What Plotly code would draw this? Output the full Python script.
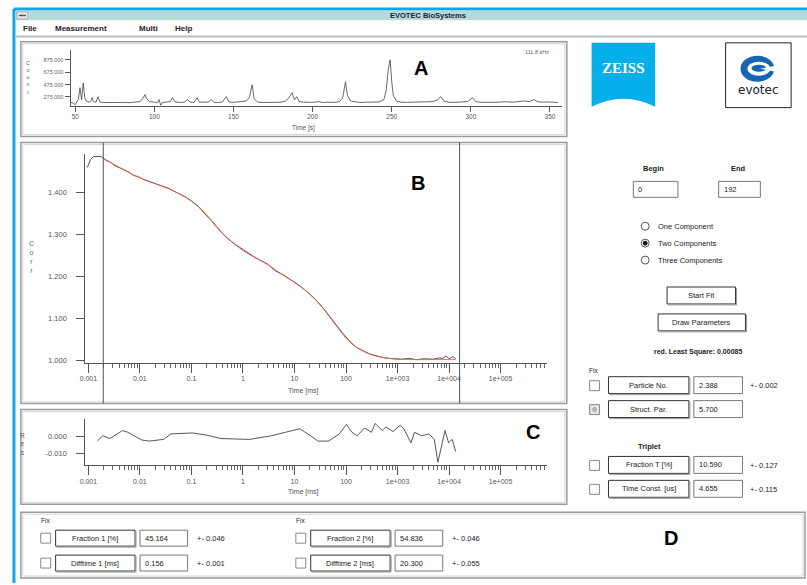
import plotly.graph_objects as go

W, H = 807, 585

# ---------------- data ----------------
# Panel A: count-rate trace
trace_time_s = [47, 49, 50, 51, 52, 53, 54, 55, 56, 57, 58, 59, 60, 60.7, 61.5, 63, 64.4, 65.5, 68, 72, 76, 80, 84, 88,
                91, 93, 94, 95, 97, 100, 102, 103, 103.5, 104, 105, 108, 110, 111.5, 113, 116, 119, 121, 122.5, 125,
                127, 128.5, 131, 134, 136, 137.5, 140, 143, 145.5, 147, 150, 153, 156, 158, 160, 161.8, 163, 165, 168,
                172, 176, 180, 183, 185, 187, 188.5, 190, 191.5, 194, 197, 200, 204, 206, 210, 214, 217, 219, 220.8,
                222, 224, 227, 230, 234, 238, 242, 245, 246.5, 247.8, 249, 250, 251, 253, 256, 260, 264, 268, 272,
                276, 279, 281, 283, 286, 290, 294, 298, 301, 303, 306, 310, 314, 318, 322, 326, 330, 334, 337, 340,
                342, 345, 348, 352, 355]
trace_counts = [190, 175, 150, 200, 240, 425, 230, 500, 260, 210, 195, 190, 220, 264, 200, 190, 280, 195, 185, 188,
                184, 186, 183, 190, 200, 260, 312, 250, 200, 190, 180, 232, 150, 140, 185, 190, 200, 264, 195, 188,
                190, 232, 190, 186, 264, 190, 188, 192, 232, 190, 185, 195, 280, 195, 188, 192, 200, 210, 260, 473,
                250, 195, 185, 186, 183, 190, 210, 260, 344, 230, 280, 200, 192, 190, 188, 200, 186, 190, 188, 200,
                260, 521, 300, 210, 195, 186, 190, 188, 195, 230, 380, 715, 876, 520, 300, 210, 190, 188, 192, 195,
                190, 200, 230, 280, 210, 190, 188, 192, 200, 264, 200, 190, 195, 188, 192, 198, 190, 205, 210, 200,
                232, 200, 190, 195, 188, 186]
trace_xticks = [50, 100, 150, 200, 250, 300, 350]
trace_yticks = [275, 475, 675, 875]
trace_yticktext = ["275.000", "475.000", "675.000", "875.000"]

# Panel B: correlation data and fit
acf_time_ms = [0.00095, 0.0011, 0.00126, 0.00178, 0.00214, 0.0027, 0.0033, 0.0045, 0.0059, 0.0075, 0.0093, 0.012,
               0.017, 0.024, 0.035, 0.05, 0.074, 0.1, 0.135, 0.18, 0.245, 0.33, 0.44, 0.7, 1.06, 1.8, 2.98, 4.2,
               6.25, 9, 13.1, 19, 27.4, 40, 57.4, 85, 120, 160, 217, 290, 393, 560, 822, 1200, 1700, 2310, 3300,
               4840, 6500, 7590, 8710, 10000, 11750, 13490]
acf_values = [1.460, 1.479, 1.486, 1.486, 1.478, 1.472, 1.464, 1.457, 1.450, 1.441, 1.438, 1.431, 1.425, 1.418,
              1.411, 1.401, 1.391, 1.380, 1.368, 1.350, 1.333, 1.314, 1.297, 1.277, 1.262, 1.244, 1.230, 1.214,
              1.203, 1.190, 1.177, 1.160, 1.141, 1.118, 1.092, 1.066, 1.045, 1.031, 1.023, 1.015, 1.011, 1.006,
              1.004, 1.003, 1.005, 1.002, 1.004, 1.003, 1.006, 1.005, 1.011, 1.004, 1.009, 1.004]
fit_time_ms = [0.002, 0.0033, 0.0059, 0.0093, 0.017, 0.035, 0.074, 0.135, 0.245, 0.44, 1.06, 2.98, 6.25, 13.1,
               27.4, 57.4, 120, 217, 393, 822, 2310, 4840, 13490]
fit_values = [1.481, 1.466, 1.449, 1.437, 1.424, 1.410, 1.390, 1.367, 1.334, 1.298, 1.260, 1.229, 1.202, 1.176,
              1.142, 1.091, 1.043, 1.022, 1.010, 1.004, 1.002, 1.002, 1.002]
acf_yticks = [1.0, 1.1, 1.2, 1.3, 1.4]
acf_yticktext = ["1.000", "1.100", "1.200", "1.300", "1.400"]

# Panel C: residuals
res_time_ms = [0.00149, 0.0019, 0.00261, 0.0036, 0.00458, 0.00582, 0.00802, 0.0110, 0.0152, 0.0289, 0.0398,
               0.104, 0.198, 0.375, 1.35, 3.53, 6.70, 12.7, 20.6, 28.3, 45.8, 74.1, 102, 130, 165, 228, 313, 367,
               506, 594, 818, 1127, 1324, 1824, 2138, 2951, 4064, 5164, 6067, 7112, 8356, 9795, 11510, 13490]
res_values = [-0.0027, 0.0004, -0.0012, 0.0015, 0.0035, 0.0025, 0.0004, -0.0021, -0.0027, -0.0017, 0.0015,
              0.0021, 0.0008, -0.0012, -0.0017, 0.0004, 0.0025, 0.0046, 0.0004, -0.0027, -0.0027, 0.0015, 0.0071,
              0.0025, 0.0004, 0.0050, 0.0025, 0.0077, 0.0035, 0.0056, 0.0029, 0.0067, 0.0046, -0.0037, 0.0025,
              0.0004, 0.0015, -0.0017, -0.0152, -0.0058, 0.0035, -0.0037, -0.0017, -0.0089]
res_yticks = [0.0, -0.01]
res_yticktext = ["0.000", "-0.010"]

log_ticks = [0.001, 0.01, 0.1, 1, 10, 100, 1e3, 1e4, 1e5]
log_ticktext = ["0.001", "0.01", "0.1", "1", "10", "100", "1e+003", "1e+004", "1e+005"]
minor_log_ticks = [m * d for d in [0.001, 0.01, 0.1, 1, 10, 100, 1e3, 1e4, 1e5] for m in range(2, 10)]

# ---------------- helpers ----------------
def X(px):
    return px / W


def Y(py):
    return 1 - py / H


FONT = "Liberation Sans"
shapes = []
annos = []


def rect(x0, y0, x1, y1, color="#9c9c9c", width=1, fill=None):
    shapes.append(dict(type="rect", xref="paper", yref="paper", x0=X(x0), y0=Y(y0), x1=X(x1), y1=Y(y1),
                       line=dict(color=color, width=width), fillcolor=fill if fill else "rgba(0,0,0,0)",
                       layer="above"))


def line(x0, y0, x1, y1, color="#9c9c9c", width=1):
    shapes.append(dict(type="line", xref="paper", yref="paper", x0=X(x0), y0=Y(y0), x1=X(x1), y1=Y(y1),
                       line=dict(color=color, width=width), layer="above"))


def circle(x0, y0, x1, y1, color="#555", width=1, fill=None):
    shapes.append(dict(type="circle", xref="paper", yref="paper", x0=X(x0), y0=Y(y0), x1=X(x1), y1=Y(y1),
                       line=dict(color=color, width=width), fillcolor=fill if fill else "rgba(0,0,0,0)",
                       layer="above"))


def txt(x, y, s, size=8, anchor="left", color="#222", family=FONT):
    annos.append(dict(x=X(x), y=Y(y), xref="paper", yref="paper", text=s, showarrow=False,
                      xanchor=anchor, yanchor="middle", font=dict(size=size, color=color, family=family)))


def panel(x0, y0, x1, y1):
    rect(x0, y0, x1, y1, "#9a9a9a", 1.5)
    rect(x0 + 2, y0 + 2, x1 - 2, y1 - 2, "#d6d6d6", 1)


def button(x0, y0, x1, y1, label):
    rect(x0, y0, x1, y1, "#333", 1, "white")
    line(x0 + 1, y1 + 1, x1 + 1, y1 + 1, "#999", 1)
    line(x1 + 1, y0 + 1, x1 + 1, y1 + 1, "#999", 1)
    txt((x0 + x1) / 2, (y0 + y1) / 2, label, 7.5, "center", "#222")


def tbox(x0, y0, x1, y1, value):
    rect(x0, y0, x1, y1, "#777", 1, "white")
    txt(x0 + 3, (y0 + y1) / 2, value, 7.5, "left", "#222")


def checkbox(x0, y0, grey=False):
    rect(x0, y0, x0 + 10, y0 + 10, "#888", 1, "#e4e4e4" if grey else "white")
    if grey:
        circle(x0 + 3, y0 + 3, x0 + 7, y0 + 7, "#aaa", 1, "#bbb")


# ---------------- window chrome ----------------
line(8, 9, 807, 9, "#12a4e4", 3)
line(8, 9, 8, 585, "#12a4e4", 3)
rect(10, 11, 807, 20, "#b4dada", 0.5, "#b4dada")
rect(11, 12, 22, 19, "#888", 0.5, "#e8e8e8")
line(13, 15.5, 20, 15.5, "#555", 1.5)
txt(425, 15.5, "<b>EVOTEC BioSystems</b>", 7.5, "center", "#222")
for mx, m in [(15, "File"), (47, "Measurement"), (132, "Multi"), (168, "Help")]:
    txt(mx, 28.5, "<b>" + m + "</b>", 8, "left", "#222")
line(10, 36.5, 807, 36.5, "#bdbdbd", 2)

# panel frames
panel(15, 42, 565, 137)
panel(15, 143, 565, 405)
panel(15, 411, 565, 506)
panel(15, 514, 805, 580)

# ---------------- logos ----------------
def P(px, py):
    return f"{X(px):.5f},{Y(py):.5f}"


shapes.append(dict(type="path", xref="paper", yref="paper",
                   path=f"M {P(590, 43)} L {P(654, 43)} L {P(654, 107)} Q {P(622, 91)} {P(590, 107)} Z",
                   fillcolor="#06aeea", line=dict(width=0), layer="above"))
txt(622, 68, "<b>ZEISS</b>", 15, "center", "white", "Liberation Serif")
rect(725, 43, 791, 108, "#222", 1, "white")
circle(740, 56, 774, 82, "#1565b4", 0, "#1565b4")
circle(747, 62, 770, 76, "white", 0, "white")
circle(751, 65, 766, 72, "#1565b4", 0, "#1565b4")
shapes.append(dict(type="path", xref="paper", yref="paper",
                   path=f"M {P(760, 69)} L {P(775, 66)} L {P(775, 72)} Z",
                   fillcolor="white", line=dict(width=0), layer="above"))
txt(758, 90, "evotec", 12, "center", "#222", "DejaVu Sans")

# ---------------- panel letters ----------------
for lx, ly, lt in [(418, 68, "A"), (415, 184, "B"), (531, 433, "C"), (670, 540, "D")]:
    txt(lx, ly, "<b>" + lt + "</b>", 20, "center", "#000", "Liberation Sans")

# ---------------- axis titles / extra text ----------------
txt(300, 128, "Time [s]", 6.5, "center", "#555")
txt(535, 52, "111.8 kHz", 5.5, "center", "#666")
txt(22, 78, "C<br>o<br>u<br>n<br>t", 5.5, "center", "#666")
txt(300, 392, "Time [ms]", 7, "center", "#555")
txt(26, 258, "C<br>o<br>r<br>r", 7, "center", "#666")
txt(300, 494, "Time [ms]", 7, "center", "#555")
txt(17, 446, "R<br>e<br>s", 6.5, "center", "#666")

# cursor lines in panel B
line(98, 143, 98, 405, "#555", 1)
line(457, 143, 457, 405, "#555", 1)

# ---------------- right column controls ----------------
txt(652, 169, "<b>Begin</b>", 7.5, "center")
txt(738, 169, "<b>End</b>", 7.5, "center")
tbox(632, 182, 677, 198, "0")
tbox(718, 182, 760, 198, "192")
for ry, lab, sel in [(227, "One Component", False), (244, "Two Components", True), (261, "Three Components", False)]:
    circle(640, ry - 4, 648, ry + 4, "#555", 1, "white")
    if sel:
        circle(642, ry - 2, 646, ry + 2, "#111", 1, "#111")
    txt(655, ry, lab, 7.5, "left")
button(666, 288, 735, 305, "Start Fit")
button(657, 315, 745, 332, "Draw Parameters")
txt(697, 353, "<b>red. Least Square: 0.00085</b>", 7, "center")
txt(585, 372, "Fix", 6.5, "left")
rows = [(378, "Particle No.", "2.388", "+- 0.002", False),
        (402, "Struct. Par.", "5.700", "", True),
        (458, "Fraction T [%]", "10.590", "+- 0.127", False),
        (482, "Time Const. [us]", "4.655", "+- 0.115", False)]
for ry, lab, val, pm, grey in rows:
    checkbox(588, ry + 4, grey)
    button(607, ry, 688, ry + 17, lab)
    tbox(693, ry, 742, ry + 17, val)
    if pm:
        txt(748, ry + 9, pm, 7.5, "left")
txt(648, 448, "<b>Triplet</b>", 7.5, "center")

# ---------------- bottom panel D ----------------
txt(33, 522, "Fix", 6.5, "left")
txt(290, 522, "Fix", 6.5, "left")
drows = [(35, 532, "Fraction 1 [%]", "45.164", "+- 0.046"),
         (35, 557, "Difftime 1 [ms]", "0.156", "+- 0.001"),
         (292, 532, "Fraction 2 [%]", "54.836", "+- 0.046"),
         (292, 557, "Difftime 2 [ms]", "20.300", "+- 0.055")]
for dx, dy, lab, val, pm in drows:
    checkbox(dx, dy + 3)
    button(dx + 15, dy, dx + 95, dy + 16, lab)
    tbox(dx + 100, dy, dx + 148, dy + 16, val)
    txt(dx + 155, dy + 8, pm, 7.5, "left")

# ---------------- figure ----------------
fig = go.Figure()
fig.add_trace(go.Scatter(x=trace_time_s, y=trace_counts, mode="lines", line=dict(color="#444", width=0.8),
                         xaxis="x", yaxis="y", showlegend=False, hoverinfo="skip"))
fig.add_trace(go.Scatter(x=acf_time_ms, y=acf_values, mode="lines", line=dict(color="#555", width=1),
                         xaxis="x2", yaxis="y2", showlegend=False))
fig.add_trace(go.Scatter(x=fit_time_ms, y=fit_values, mode="lines", line=dict(color="#e8604c", width=0.9, shape="spline"),
                         xaxis="x2", yaxis="y2", showlegend=False))
fig.add_trace(go.Scatter(x=res_time_ms, y=res_values, mode="lines", line=dict(color="#444", width=0.9),
                         xaxis="x3", yaxis="y3", showlegend=False))

tickfont = dict(size=7, color="#555", family=FONT)
ytickfont = dict(size=7.5, color="#555", family=FONT)
common = dict(showline=True, linecolor="#555", linewidth=1, showgrid=False, zeroline=False,
              ticks="outside", tickcolor="#555")

fig.update_layout(
    width=W, height=H, margin=dict(l=0, r=0, t=0, b=0),
    paper_bgcolor="white", plot_bgcolor="white", showlegend=False, hovermode=False,
    xaxis=dict(domain=[X(65), X(560)], anchor="y", range=[47, 357.5], tickvals=trace_xticks, ticklen=5,
               tickfont=dict(size=6.5, color="#555", family=FONT), **common),
    yaxis=dict(domain=[Y(106), Y(50)], anchor="x", range=[135, 1036], tickvals=trace_yticks,
               ticktext=trace_yticktext, ticklen=5, tickfont=dict(size=5.5, color="#666", family=FONT), **common),
    xaxis2=dict(domain=[X(80), X(545)], anchor="y2", type="log", range=[-3.058, 5.90], tickvals=log_ticks,
                ticktext=log_ticktext, ticklen=9, tickfont=tickfont,
                minor=dict(tickvals=minor_log_ticks, ticks="outside", ticklen=4, tickcolor="#666", showgrid=False),
                **common),
    yaxis2=dict(domain=[Y(364), Y(155)], anchor="x2", range=[0.9945, 1.491], tickvals=acf_yticks,
                ticktext=acf_yticktext, ticklen=8, ticklabelstandoff=8, tickfont=ytickfont, **common),
    xaxis3=dict(domain=[X(80), X(545)], anchor="y3", type="log", range=[-3.058, 5.90], tickvals=log_ticks,
                ticktext=log_ticktext, ticklen=9, tickfont=tickfont,
                minor=dict(tickvals=minor_log_ticks, ticks="outside", ticklen=4, tickcolor="#666", showgrid=False),
                **common),
    yaxis3=dict(domain=[Y(467), Y(420)], anchor="x3", range=[-0.01704, 0.01058], tickvals=res_yticks,
                ticktext=res_yticktext, ticklen=8, ticklabelstandoff=8, tickfont=ytickfont, **common),
    shapes=shapes,
    annotations=annos,
)

fig.write_html("out.html", config={"displayModeBar": False, "staticPlot": True},
               post_script="document.body.style.margin='0';document.body.style.padding='0';"
                           "document.body.style.overflow='hidden';")
